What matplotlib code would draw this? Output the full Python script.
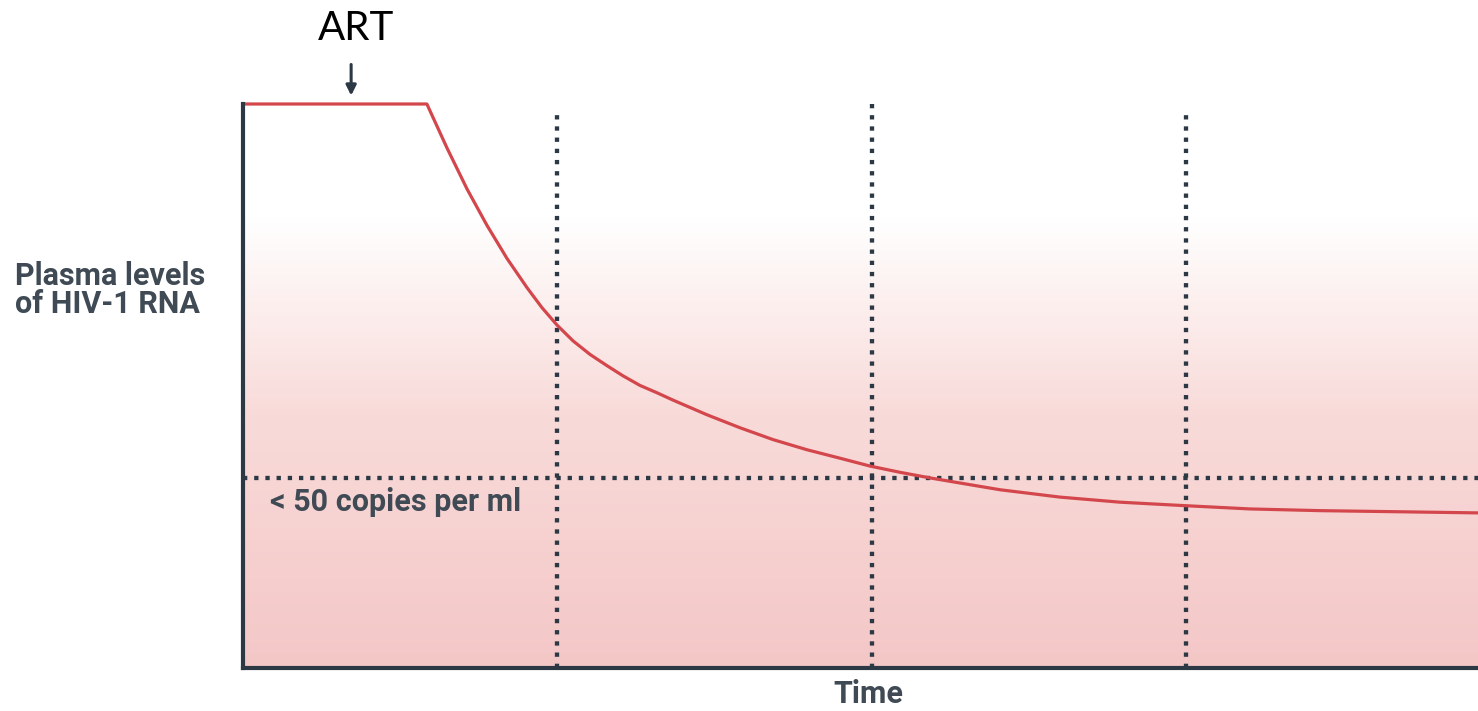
import numpy as np
import matplotlib
matplotlib.use("Agg")
import matplotlib.pyplot as plt
from matplotlib.colors import LinearSegmentedColormap

# viral load curve (time in arbitrary units, level relative to start)
time = [0.000, 0.585, 0.649, 0.713, 0.776, 0.840, 0.904, 0.951, 0.999, 1.050,
        1.104, 1.158, 1.209, 1.263, 1.317, 1.368, 1.476, 1.581, 1.686, 1.794,
        1.899, 1.995, 2.090, 2.186, 2.281, 2.409, 2.599, 2.790, 2.991, 3.204,
        3.427, 3.681, 3.929]
rna = [1.000, 1.000, 0.922, 0.849, 0.785, 0.726, 0.674, 0.639, 0.608, 0.580,
       0.556, 0.536, 0.518, 0.501, 0.488, 0.475, 0.449, 0.426, 0.405, 0.387,
       0.372, 0.358, 0.347, 0.337, 0.328, 0.316, 0.303, 0.294, 0.288, 0.282,
       0.279, 0.277, 0.275]
checkpoints = [1, 2, 3]
checkpoint_tops = [0.984, 1.0, 0.984]
threshold = 0.337
art_start = 0.344

ink = '#2c3844'
label_col = '#3f4a54'

fig = plt.figure(figsize=(14.78, 7.11), dpi=100)
ax = fig.add_axes([243 / 1478, 43 / 711, 1235 / 1478, 564 / 711])
xmax = time[-1]
ax.set_xlim(0, xmax)
ax.set_ylim(0, 1)

# pink gradient background, white at the top
cmap = LinearSegmentedColormap.from_list(
    'bg', [(0, '#f4c7c7'), (0.45, '#f8dbd9'), (0.8, '#ffffff'), (1, '#ffffff')])
grad = np.linspace(0, 1, 256).reshape(-1, 1)
ax.imshow(grad, cmap=cmap, origin='lower', aspect='auto',
          extent=[0, xmax, 0, 1], zorder=0)

dots = dict(color=ink, lw=3.1, linestyle=(0, (1.0, 1.6)), dash_capstyle='butt', zorder=2)
for t, top in zip(checkpoints, checkpoint_tops):
    ax.plot([t, t], [0, top], **dots)
ax.plot([0, xmax], [threshold, threshold], **dots)

ax.plot(time, rna, color='#d3474c', lw=2.3, zorder=3, clip_on=False,
        solid_capstyle='butt', solid_joinstyle='round')

for s in ['top', 'right']:
    ax.spines[s].set_visible(False)
for s in ['left', 'bottom']:
    ax.spines[s].set_color(ink)
    ax.spines[s].set_linewidth(3)
    ax.spines[s].set_zorder(4)
ax.set_xticks([])
ax.set_yticks([])

ax.annotate('', xy=(art_start, 1.01), xytext=(art_start, 1.075),
            arrowprops=dict(arrowstyle='-|>,head_width=0.3,head_length=0.6',
                            color=ink, lw=2.2), annotation_clip=False)
fig.text(356 / 1478, 1 - 28 / 711, 'ART', fontsize=29, family='Lato',
         ha='center', va='center', color='black')

lab = dict(family='Roboto', fontweight='bold', color=label_col)
fig.text(15 / 1478, 1 - 290 / 711, 'Plasma levels\nof HIV-1 RNA', fontsize=22,
         ha='left', va='center', linespacing=0.9, **lab)
ax.text(0.087, threshold - 0.042, '< 50 copies per ml', fontsize=22,
        ha='left', va='center', zorder=5, **lab)
fig.text(868 / 1478, 1 - 694 / 711, 'Time', fontsize=22,
         ha='center', va='center', **lab)

fig.savefig('out.png', dpi=100)
